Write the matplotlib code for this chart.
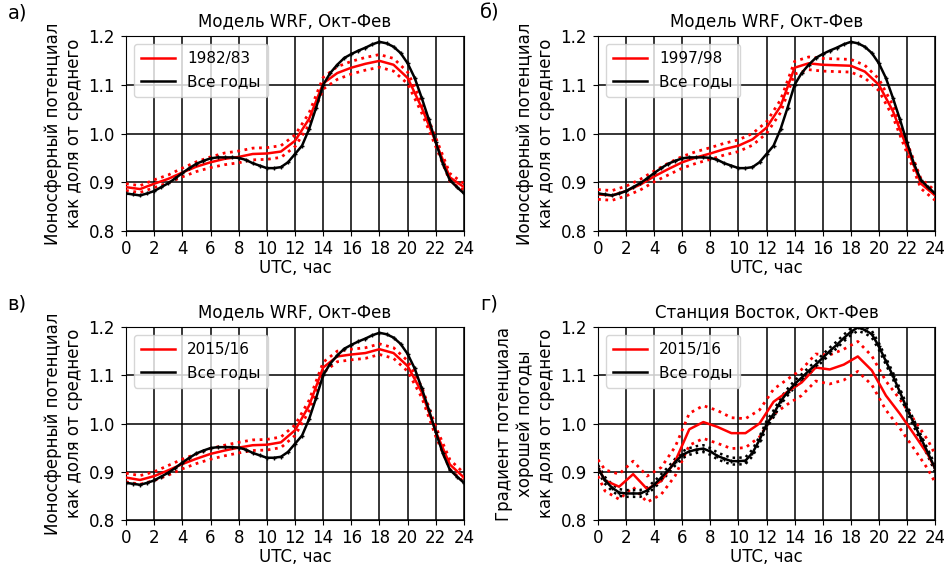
import numpy as np
import matplotlib
matplotlib.use('Agg')
import matplotlib.pyplot as plt

# Hours for the seasonal WRF curves (hourly) and the all-years curves (half-hourly)
HOURS = np.arange(0, 25)
HALF_HOURS = np.arange(0, 24.5, 0.5)

# WRF, all years (same curve in panels a, b, c)
WRF_ALL = [0.877, 0.875, 0.873, 0.877, 0.882, 0.890, 0.898, 0.908, 0.919, 0.929,
           0.938, 0.944, 0.949, 0.951, 0.951, 0.951, 0.950, 0.946, 0.939, 0.934,
           0.929, 0.929, 0.931, 0.941, 0.958, 0.975, 1.009, 1.053, 1.100, 1.124,
           1.141, 1.155, 1.163, 1.170, 1.176, 1.183, 1.188, 1.185, 1.178, 1.165,
           1.144, 1.114, 1.073, 1.029, 0.982, 0.938, 0.904, 0.890, 0.877]

# WRF, single seasons
WRF_1982 = [0.890, 0.886, 0.897, 0.907, 0.920, 0.932, 0.941, 0.948, 0.952, 0.958,
            0.959, 0.963, 0.985, 1.030, 1.103, 1.124, 1.135, 1.143, 1.149, 1.141,
            1.114, 1.053, 0.982, 0.910, 0.890]
WRF_1982_ERR = [0.007, 0.007, 0.008, 0.008, 0.009, 0.010, 0.011, 0.012, 0.012, 0.012,
                0.012, 0.012, 0.012, 0.012, 0.012, 0.013, 0.013, 0.013, 0.013, 0.013,
                0.012, 0.011, 0.009, 0.008, 0.007]

WRF_1997 = [0.875, 0.873, 0.882, 0.895, 0.912, 0.927, 0.941, 0.951, 0.959, 0.968,
            0.975, 0.988, 1.012, 1.056, 1.135, 1.144, 1.141, 1.140, 1.139, 1.127,
            1.100, 1.046, 0.971, 0.897, 0.873]
WRF_1997_ERR = [0.010, 0.010, 0.010, 0.011, 0.011, 0.012, 0.012, 0.012, 0.012, 0.012,
                0.012, 0.012, 0.012, 0.013, 0.013, 0.013, 0.013, 0.013, 0.013, 0.013,
                0.012, 0.012, 0.011, 0.010, 0.010]

WRF_2015 = [0.888, 0.883, 0.891, 0.903, 0.916, 0.927, 0.937, 0.944, 0.950, 0.955,
            0.956, 0.961, 0.986, 1.037, 1.116, 1.139, 1.143, 1.146, 1.154, 1.146,
            1.119, 1.065, 0.983, 0.915, 0.888]
WRF_2015_ERR = [0.009, 0.009, 0.009, 0.010, 0.010, 0.010, 0.011, 0.011, 0.011, 0.011,
                0.011, 0.011, 0.011, 0.011, 0.011, 0.011, 0.011, 0.011, 0.011, 0.011,
                0.011, 0.011, 0.010, 0.010, 0.009]

# Vostok station, all years (half-hourly)
VOSTOK_ALL = [0.907, 0.882, 0.867, 0.857, 0.855, 0.855, 0.855, 0.861, 0.873, 0.888,
              0.903, 0.920, 0.935, 0.942, 0.946, 0.948, 0.942, 0.933, 0.927, 0.922,
              0.922, 0.923, 0.939, 0.966, 0.998, 1.020, 1.046, 1.065, 1.082, 1.095,
              1.109, 1.122, 1.136, 1.150, 1.163, 1.177, 1.190, 1.199, 1.194, 1.185,
              1.160, 1.129, 1.099, 1.065, 1.031, 1.000, 0.969, 0.939, 0.907]
VOSTOK_ALL_ERR = [0.007] * 49

# Vostok station, 2015/16 (hourly means plotted at half hours)
VOSTOK_HOURS = [0, 0.5, 1.5, 2.5, 3.5, 4.5, 5.5, 6.5, 7.5, 8.5, 9.5, 10.5, 11.5,
                12.5, 13.5, 14.5, 15.5, 16.5, 17.5, 18.5, 19.5, 20.5, 21.5, 22.5,
                23.5, 24]
VOSTOK_2015 = [0.908, 0.882, 0.869, 0.895, 0.864, 0.881, 0.922, 0.988, 1.003, 0.993,
               0.980, 0.980, 1.000, 1.045, 1.066, 1.085, 1.116, 1.112, 1.122, 1.139,
               1.110, 1.058, 1.020, 0.978, 0.935, 0.907]
VOSTOK_2015_ERR = [0.017, 0.022, 0.026, 0.027, 0.027, 0.028, 0.030, 0.033, 0.034, 0.034,
                   0.032, 0.030, 0.028, 0.026, 0.026, 0.027, 0.028, 0.030, 0.032, 0.031,
                   0.030, 0.030, 0.030, 0.030, 0.030, 0.029]

YLABEL_WRF = 'Ионосферный потенциал\nкак доля от среднего'
YLABEL_VOSTOK = 'Градиент потенциала\nхорошей погоды\nкак доля от среднего'
TITLE_WRF = 'Модель WRF, Окт-Фев'
TITLE_VOSTOK = 'Станция Восток, Окт-Фев'

plt.rcParams['font.family'] = ['DejaVu Sans']
plt.rcParams['font.size'] = 12

fig = plt.figure(figsize=(9.44, 5.68), dpi=100)

positions = [
    [0.1335, 0.5933, 0.358, 0.3433],
    [0.6335, 0.5933, 0.357, 0.3433],
    [0.1335, 0.0845, 0.358, 0.3398],
    [0.6335, 0.0845, 0.357, 0.3398],
]

panels = [
    ('а)', TITLE_WRF, YLABEL_WRF, '1982/83', HOURS, WRF_1982, WRF_1982_ERR, HALF_HOURS, WRF_ALL, None),
    ('б)', TITLE_WRF, YLABEL_WRF, '1997/98', HOURS, WRF_1997, WRF_1997_ERR, HALF_HOURS, WRF_ALL, None),
    ('в)', TITLE_WRF, YLABEL_WRF, '2015/16', HOURS, WRF_2015, WRF_2015_ERR, HALF_HOURS, WRF_ALL, None),
    ('г)', TITLE_VOSTOK, YLABEL_VOSTOK, '2015/16', VOSTOK_HOURS, VOSTOK_2015, VOSTOK_2015_ERR,
     HALF_HOURS, VOSTOK_ALL, VOSTOK_ALL_ERR),
]

for pos, (letter, title, ylabel, season, xs, ys, err, xa, ya, erra) in zip(positions, panels):
    ax = fig.add_axes(pos)
    ys = np.array(ys)
    err = np.array(err)
    ya = np.array(ya)

    # seasonal curve with uncertainty band
    ax.plot(xs, ys, color='red', lw=1.8, label=season, zorder=4)
    ax.plot(xs, ys + err, color='red', lw=2, ls=':', zorder=3)
    ax.plot(xs, ys - err, color='red', lw=2, ls=':', zorder=3)

    # all-years curve (line for the legend, markers drawn separately)
    ax.plot(xa, ya, color='black', lw=1.8, label='Все годы', zorder=5)
    ax.plot(xa, ya, ls='none', color='black', marker='+', ms=3.5, mew=1, zorder=5)
    if erra is not None:
        erra = np.array(erra)
        ax.plot(xa, ya + erra, color='black', lw=1.8, ls=':', zorder=3)
        ax.plot(xa, ya - erra, color='black', lw=1.8, ls=':', zorder=3)

    ax.set_xlim(0, 24)
    ax.set_ylim(0.8, 1.2)
    ax.set_xticks(np.arange(0, 25, 2))
    ax.set_yticks([0.8, 0.9, 1.0, 1.1, 1.2])
    ax.grid(True, color='black', lw=1.1)
    ax.set_axisbelow(True)
    ax.set_title(title, fontsize=12, pad=7)
    ax.set_xlabel('UTC, час', fontsize=12, labelpad=1)
    ax.set_ylabel(ylabel, fontsize=12)
    ax.tick_params(axis='y', labelsize=12, pad=4.5)
    ax.tick_params(axis='x', labelsize=12, pad=3)
    ax.legend(loc='upper left', fontsize=11, handlelength=2.2, borderpad=0.5,
              framealpha=0.8)
    ax.text(-0.35, 1.07, letter, transform=ax.transAxes, fontsize=14,
            va='bottom', ha='left')

fig.savefig('out.png', dpi=100)
